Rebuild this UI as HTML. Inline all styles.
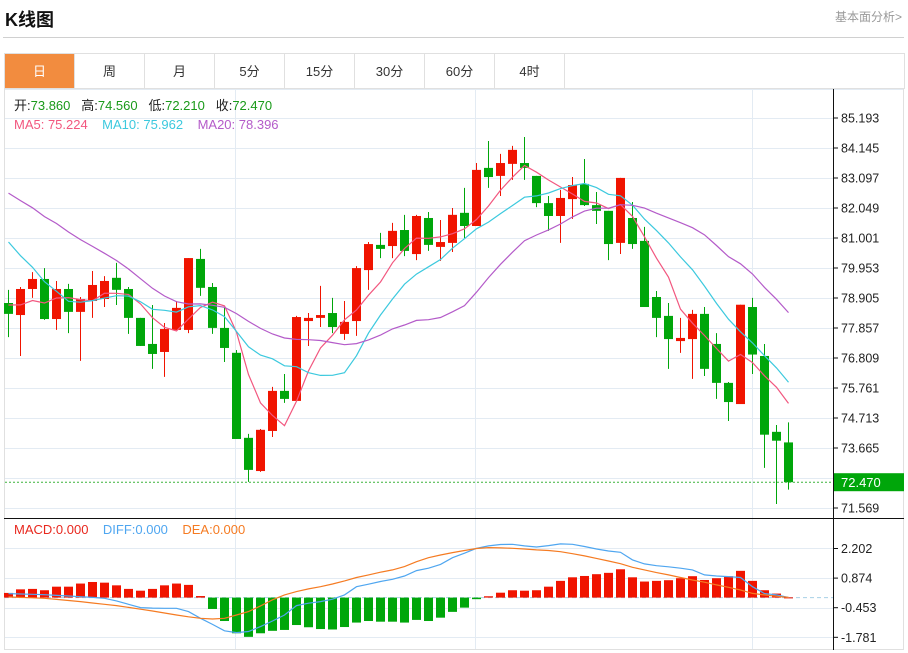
<!DOCTYPE html>
<html><head><meta charset="utf-8">
<style>
html,body{margin:0;padding:0;background:#fff;width:908px;height:653px;overflow:hidden;font-family:"Liberation Sans","Noto Sans CJK SC",sans-serif;}
#title{position:absolute;left:5px;top:6px;font-size:18px;font-weight:bold;color:#111;}
#link{position:absolute;right:6px;top:8px;font-size:12px;color:#999;}
#hr{position:absolute;left:3px;top:37px;width:901px;height:1px;background:#d0d0d0;}
#tabs{position:absolute;left:4px;top:53px;width:899px;height:35px;border:1px solid #e0e0e0;border-bottom:none;}
.tab{position:absolute;top:0;height:35px;width:70px;border-right:1px solid #e0e0e0;box-sizing:border-box;text-align:center;line-height:35px;font-size:13px;color:#333;}
.tab.on{background:#f28c3f;color:#fff;}
svg{position:absolute;left:0;top:0;}
</style></head><body>
<div id="title">K线图</div>
<div id="link">基本面分析&gt;</div>
<div id="hr"></div>
<div id="tabs">
<div class="tab on" style="left:0">日</div>
<div class="tab" style="left:70px">周</div>
<div class="tab" style="left:140px">月</div>
<div class="tab" style="left:210px">5分</div>
<div class="tab" style="left:280px">15分</div>
<div class="tab" style="left:350px">30分</div>
<div class="tab" style="left:420px">60分</div>
<div class="tab" style="left:490px">4时</div>
</div>
<svg id="chart" width="908" height="653"></svg>
<script>
const opens=[78.73,78.31,79.22,79.57,78.17,79.22,78.42,78.80,78.87,79.61,79.22,78.21,77.30,77.02,77.79,77.79,80.27,79.29,77.86,76.99,74.02,72.86,74.26,75.66,75.31,78.10,78.21,78.38,77.65,78.10,79.88,80.76,80.72,81.28,80.44,81.70,80.69,80.83,81.88,81.42,83.45,83.17,83.59,83.62,83.17,82.22,81.77,82.36,82.89,82.15,81.95,80.83,81.70,80.90,78.94,78.28,77.40,77.47,78.35,77.30,75.94,75.20,78.59,76.88,74.23,73.86];
const closes=[78.35,79.22,79.57,78.17,79.22,78.42,78.87,79.36,79.50,79.19,78.21,77.23,76.95,77.82,78.56,80.30,79.26,77.86,77.16,73.98,72.90,74.30,75.66,75.38,78.24,78.21,78.31,77.89,78.07,79.95,80.79,80.62,81.25,80.55,81.77,80.76,80.86,81.81,81.42,83.38,83.13,83.62,84.08,83.45,82.22,81.77,82.40,82.85,82.15,81.95,80.79,83.10,80.79,78.59,78.21,77.47,77.51,78.35,76.43,75.94,75.27,78.67,76.93,74.13,73.92,72.47];
const highs=[79.19,79.29,79.81,79.95,79.50,79.40,78.94,79.85,79.67,80.13,79.29,78.21,78.66,78.03,78.80,80.30,80.62,79.43,78.59,77.09,74.16,74.33,75.80,76.25,78.28,78.38,79.33,78.91,78.80,80.02,80.86,81.18,81.53,81.81,81.81,81.91,81.63,82.05,82.75,83.62,84.39,83.94,84.22,84.53,83.17,82.47,82.68,83.13,83.76,82.61,81.95,83.10,82.26,81.39,79.15,78.73,78.21,78.49,78.59,77.68,75.97,78.67,78.91,77.30,74.47,74.56];
const lows=[77.54,76.88,78.91,78.14,77.79,77.68,76.71,78.21,78.59,78.66,77.65,77.23,76.43,76.15,77.79,77.68,78.98,77.65,76.67,73.98,72.48,72.83,74.05,75.24,75.31,77.23,77.89,77.68,77.44,77.58,79.19,80.30,80.30,80.37,80.23,80.55,80.20,80.51,81.00,81.42,82.75,82.47,83.03,83.03,82.08,81.25,80.83,81.67,82.12,81.49,80.23,80.44,80.62,78.59,77.54,76.43,76.99,76.08,76.18,75.38,74.61,75.20,76.25,72.97,71.71,72.21];
const priorCloses=[84.5,84.6,84.3,84.0,84.4,84.2,84.1,84.3,84.2,84.2,84.0,83.6,83.2,82.6,81.9,79.2,78.8,78.6,78.35];
const macdHist=[0.21,0.37,0.39,0.33,0.49,0.49,0.63,0.70,0.67,0.55,0.39,0.31,0.39,0.55,0.63,0.57,0.07,-0.51,-1.05,-1.60,-1.76,-1.60,-1.49,-1.45,-1.23,-1.33,-1.41,-1.43,-1.32,-1.12,-1.05,-1.08,-1.08,-1.12,-1.00,-1.05,-0.90,-0.64,-0.45,-0.07,0.06,0.22,0.33,0.31,0.33,0.49,0.75,0.91,0.97,1.05,1.11,1.27,0.91,0.72,0.75,0.78,0.87,0.96,0.79,0.87,0.96,1.20,0.75,0.33,0.18,0.01];
const diffVals=[0.18,0.16,0.15,0.13,0.10,0.07,0.04,0.01,-0.03,-0.15,-0.30,-0.45,-0.47,-0.48,-0.48,-0.63,-0.93,-1.20,-1.49,-1.57,-1.52,-1.30,-1.05,-0.78,-0.36,-0.25,-0.18,-0.07,0.12,0.49,0.60,0.72,0.82,0.97,1.21,1.32,1.49,1.79,1.99,2.21,2.32,2.38,2.39,2.32,2.27,2.33,2.41,2.39,2.29,2.18,2.09,2.03,1.69,1.51,1.43,1.38,1.32,1.24,1.02,0.97,0.94,0.90,0.49,0.18,0.12,0.01];
const deaVals=[0.03,0.01,-0.01,-0.03,-0.08,-0.13,-0.18,-0.24,-0.30,-0.36,-0.44,-0.52,-0.60,-0.69,-0.78,-0.86,-0.93,-0.96,-0.93,-0.78,-0.63,-0.37,-0.10,0.12,0.27,0.39,0.49,0.61,0.75,0.90,1.02,1.14,1.24,1.39,1.61,1.79,1.91,2.02,2.11,2.20,2.24,2.23,2.21,2.18,2.14,2.11,2.06,1.97,1.87,1.76,1.64,1.52,1.36,1.24,1.12,1.02,0.90,0.79,0.69,0.57,0.46,0.34,0.19,0.12,0.06,0.01];
const priceTicks=[85.193,84.145,83.097,82.049,81.001,79.953,78.905,77.857,76.809,75.761,74.713,73.665,72.617,71.569];
const macdTicks=[2.202,0.874,-0.453,-1.781];

const NS="http://www.w3.org/2000/svg";
const svg=document.getElementById('chart');
function el(tag,attrs,parent){const e=document.createElementNS(NS,tag);for(const k in attrs)e.setAttribute(k,attrs[k]);(parent||svg).appendChild(e);return e;}
const xC=i=>8+12*i;
const yP=v=>118+(85.193-v)*28.626;
const yM=v=>597.6-v*22.3;
const RED="#f01400",GREEN="#00a60a";

let f=el('rect',{x:4.5,y:88.5,width:899,height:561,fill:'none',stroke:'#e0e0e0'});


const grid=el('g',{stroke:'#e3ebf3','stroke-width':1});


priceTicks.forEach(t=>el('line',{x1:5,x2:833,y1:Math.round(yP(t))+0.5,y2:Math.round(yP(t))+0.5},grid));
[89.5].forEach(y=>el('line',{x1:5,x2:903,y1:y,y2:y},grid));
macdTicks.forEach(t=>el('line',{x1:5,x2:833,y1:Math.round(yM(t))+0.5,y2:Math.round(yM(t))+0.5},grid));
[235.5,475.5,752.5].forEach(x=>el('line',{x1:x,x2:x,y1:89,y2:649},grid));
let sep=el('line',{x1:4,x2:904,y1:518.5,y2:518.5,stroke:'#111','stroke-width':1});



const cg=el('g',{});


for(let i=0;i<closes.length;i++){
  const up=closes[i]>=opens[i];const col=up?RED:GREEN;
  const g=el('g',{},cg);
  
  
  const x=xC(i);
  el('line',{x1:x+0.5,x2:x+0.5,y1:yP(highs[i]),y2:yP(lows[i]),stroke:col,'stroke-width':1},g);
  const t=yP(Math.max(opens[i],closes[i])),b=yP(Math.min(opens[i],closes[i]));
  el('rect',{x:x-4,y:t,width:9,height:Math.max(1.5,b-t),fill:col},g);
}
const all=priorCloses.concat(closes);
function ma(n){const r=[];for(let i=0;i<closes.length;i++){const k=i+priorCloses.length;let s=0;for(let j=k-n+1;j<=k;j++)s+=all[j];r.push(s/n);}return r;}
const ma5=ma(5),ma10=ma(10),ma20=ma(20);
[[ma5,'#f2577f','ma5-line'],[ma10,'#3cc9de','ma10-line'],[ma20,'#b45bc9','ma20-line']].forEach(([arr,c,n])=>{
  const p=el('polyline',{points:arr.map((v,i)=>xC(i)+0.5+','+yP(v).toFixed(1)).join(' '),fill:'none',stroke:c,'stroke-width':1.2});
  
  
});
let lp=el('line',{x1:5,x2:833,y1:yP(closes[closes.length-1]),y2:yP(closes[closes.length-1]),stroke:'#3bb33b','stroke-dasharray':'2,2','stroke-width':1});



let zl=el('line',{x1:5,x2:833,y1:yM(0),y2:yM(0),stroke:'#a8d0e6','stroke-dasharray':'4,3'});


const hg=el('g',{});


macdHist.forEach((v,i)=>{
  const y0=yM(0),y1=yM(v);
  const r=el('rect',{x:xC(i)-4,y:Math.min(y0,y1),width:9,height:Math.max(1,Math.abs(y1-y0)),fill:v>=0?RED:GREEN},hg);
  
  
});
[[diffVals,'#4fa6f0','diff-line'],[deaVals,'#f57b22','dea-line']].forEach(([arr,c,n])=>{
  const p=el('polyline',{points:arr.map((v,i)=>xC(i)+0.5+','+yM(v).toFixed(1)).join(' '),fill:'none',stroke:c,'stroke-width':1.2});
  
  
});

let ax=el('line',{x1:833.5,x2:833.5,y1:89,y2:650,stroke:'#111'});


const tg=el('g',{'font-size':12.5,fill:'#222','font-family':'Liberation Sans, sans-serif'});


priceTicks.forEach(t=>{const y=yP(t);el('line',{x1:833,x2:838,y1:y,y2:y,stroke:'#111'},tg);const tx=el('text',{x:841,y:y+4.5},tg);tx.textContent=t.toFixed(3);});
macdTicks.forEach(t=>{const y=yM(t);el('line',{x1:833,x2:838,y1:y,y2:y,stroke:'#111'},tg);const tx=el('text',{x:841,y:y+4.5},tg);tx.textContent=t.toFixed(3);});
const lpy=yP(closes[closes.length-1]);
const lb=el('g',{});


el('rect',{x:834,y:lpy-9,width:70,height:18,fill:'#00a60a'},lb);
const lt=el('text',{x:841,y:lpy+5,'font-size':13,fill:'#fff','font-family':'Liberation Sans, sans-serif'},lb);
lt.textContent=closes[closes.length-1].toFixed(3);

function txt(x,y,parts,name){const t=el('text',{x:x,y:y,'font-size':13,'font-family':'Liberation Sans, Noto Sans CJK SC, sans-serif'});t.style.whiteSpace='pre';parts.forEach(([s,c])=>{const ts=el('tspan',{fill:c},t);ts.textContent=s;});}
const L=closes.length-1;
txt(14,110,[['开:','#222'],[opens[L].toFixed(3)+'   ','#1a9a1a'],['高:','#222'],[highs[L].toFixed(3)+'   ','#1a9a1a'],['低:','#222'],[lows[L].toFixed(3)+'   ','#1a9a1a'],['收:','#222'],[closes[L].toFixed(3),'#1a9a1a']],'ohlc-info');
txt(14,129,[['MA5: '+ma5[L].toFixed(3)+'    ','#f2577f'],['MA10: '+ma10[L].toFixed(3)+'    ','#3cc9de'],['MA20: '+ma20[L].toFixed(3),'#b45bc9']],'ma-legend');
txt(14,534,[['MACD:0.000    ','#e8281e'],['DIFF:0.000    ','#4fa6f0'],['DEA:0.000','#f57b22']],'macd-legend');
</script>
</body></html>
